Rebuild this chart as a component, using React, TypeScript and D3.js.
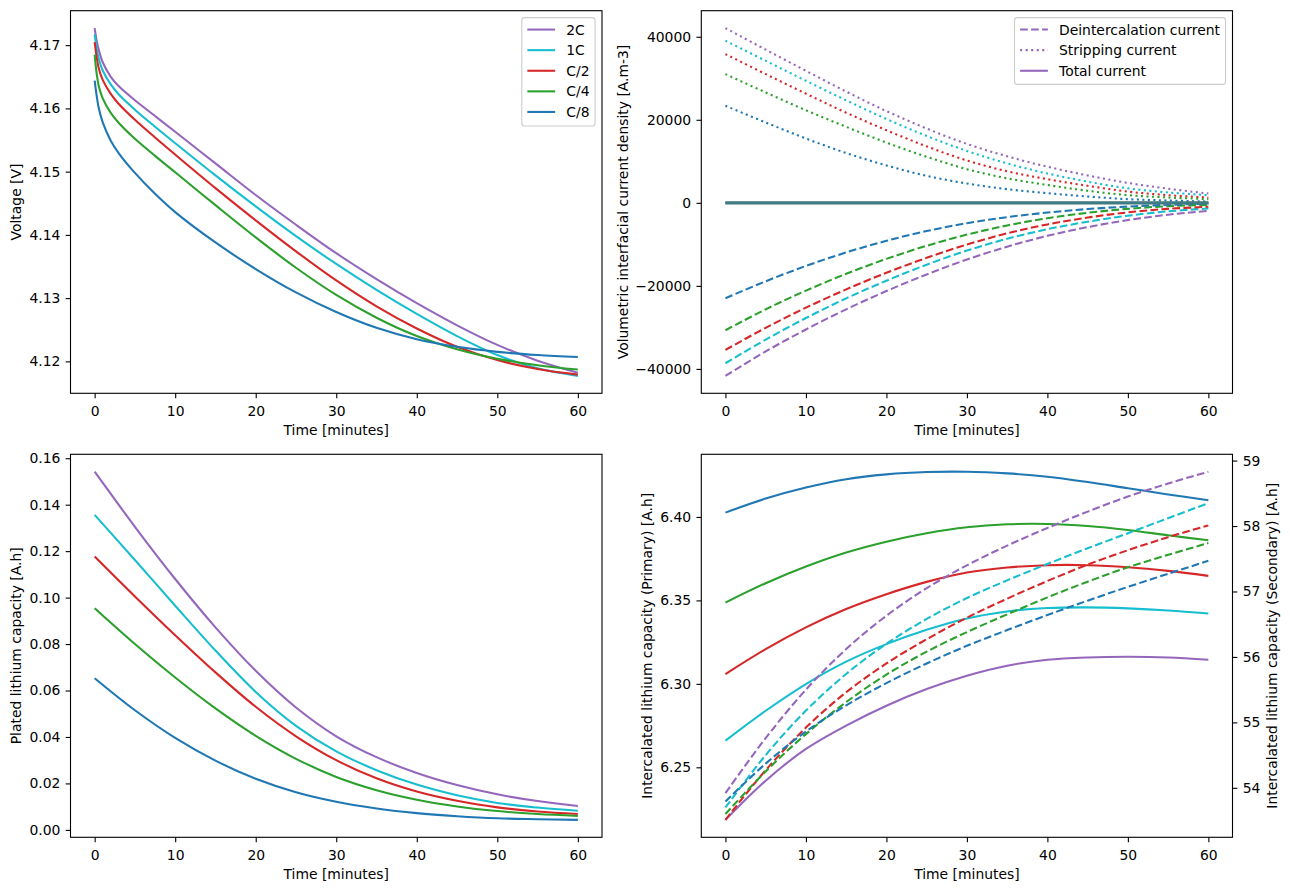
import { useEffect, useRef } from "react";
import * as d3 from "d3";

// C-rates, in the order they were plotted
const rateLabels = ["2C", "1C", "C/2", "C/4", "C/8"];
const rateColors = ["#9467bd", "#17becf", "#d62728", "#2ca02c", "#1f77b4"];

// ---- voltage panel (finer sampling near the start of the rest) ----
const voltageTime = [0, 0.25, 0.5, 1, 2, 3, 5, 7.5, 10, 15, 20, 25, 30, 35, 40, 45, 50, 55, 60];
const voltage2C = [4.1727, 4.1707, 4.1693, 4.1673, 4.165, 4.1635, 4.1613, 4.1588, 4.1563, 4.1513, 4.1463, 4.1416, 4.1371, 4.133, 4.1292, 4.1257, 4.1226, 4.1201, 4.1182];
const voltage1C = [4.1717, 4.1695, 4.1679, 4.166, 4.1638, 4.1622, 4.1598, 4.1571, 4.1545, 4.1494, 4.1445, 4.1398, 4.1354, 4.1313, 4.1275, 4.124, 4.121, 4.1189, 4.1177];
const voltageC2 = [4.1705, 4.1681, 4.1664, 4.1645, 4.1623, 4.1607, 4.1582, 4.1554, 4.1527, 4.1474, 4.1423, 4.1374, 4.1328, 4.1287, 4.1252, 4.1223, 4.1202, 4.1188, 4.1179];
const voltageC4 = [4.1685, 4.1655, 4.1636, 4.1616, 4.1593, 4.1577, 4.1552, 4.1525, 4.1499, 4.1447, 4.1396, 4.1348, 4.1305, 4.1269, 4.124, 4.1219, 4.1204, 4.1194, 4.1187];
const voltageC8 = [4.1644, 4.162, 4.1601, 4.1578, 4.1549, 4.1529, 4.1498, 4.1465, 4.1436, 4.1388, 4.1346, 4.1309, 4.1278, 4.1253, 4.1235, 4.1223, 4.1215, 4.121, 4.1207];
const voltageTicks = [4.12, 4.13, 4.14, 4.15, 4.16, 4.17];

// ---- the other panels are sampled every 5 minutes ----
const sampleTime = [0, 5, 10, 15, 20, 25, 30, 35, 40, 45, 50, 55, 60];
const timeTicks = [0, 10, 20, 30, 40, 50, 60];

// volumetric interfacial current density [A.m-3]
const deint2C = [-41686, -35800, -30500, -25650, -21250, -17250, -13650, -10550, -7950, -5850, -4150, -2850, -1930];
const deint1C = [-38634, -32950, -27750, -23000, -18750, -14900, -11500, -8650, -6350, -4550, -3100, -2050, -1370];
const deintC2 = [-35422, -30100, -25250, -20850, -16850, -13250, -10050, -7350, -5200, -3550, -2300, -1450, -960];
const deintC4 = [-30682, -25650, -21150, -17100, -13500, -10350, -7650, -5450, -3700, -2400, -1450, -800, -480];
const deintC8 = [-22971, -18900, -15200, -11950, -9150, -6800, -4900, -3450, -2350, -1500, -900, -480, -180];
const strip2C = [42087, 36900, 31800, 26800, 22100, 17900, 14200, 11200, 8700, 6600, 4800, 3400, 2250];
const strip1C = [39035, 34216, 29397, 24700, 20200, 16100, 12500, 9500, 7068, 5100, 3500, 2500, 1850];
const stripC2 = [35823, 31003, 26300, 21700, 17500, 13600, 10200, 7600, 5700, 4100, 2700, 1850, 1290];
const stripC4 = [31003, 26586, 22300, 18300, 14500, 11100, 8100, 5900, 4300, 2900, 1850, 1290, 880];
const stripC8 = [23373, 19357, 15500, 12000, 9000, 6500, 4650, 3290, 2330, 1530, 880, 560, 320];
const total2C = [0, 0, 0, 0, 0, 0, 0, 0, 0, 0, 0, 0, 0];
const total1C = [0, 0, 0, 0, 0, 0, 0, 0, 0, 0, 0, 0, 0];
const totalC2 = [0, 0, 0, 0, 0, 0, 0, 0, 0, 0, 0, 0, 0];
const totalC4 = [0, 0, 0, 0, 0, 0, 0, 0, 0, 0, 0, 0, 0];
const totalC8 = [0, 0, 0, 0, 0, 0, 0, 0, 0, 0, 0, 0, 0];
const currentTicks = [-40000, -20000, 0, 20000, 40000];

// plated lithium capacity [A.h]
const plated2C = [0.1542, 0.1305, 0.108, 0.0872, 0.0685, 0.0527, 0.0403, 0.0313, 0.0245, 0.0193, 0.0153, 0.0124, 0.0103];
const plated1C = [0.1356, 0.1162, 0.0965, 0.0772, 0.0594, 0.0448, 0.0338, 0.0257, 0.0195, 0.0149, 0.0116, 0.0096, 0.0082];
const platedC2 = [0.1177, 0.1005, 0.0838, 0.0678, 0.053, 0.0403, 0.03, 0.0222, 0.0165, 0.0125, 0.0097, 0.0079, 0.0068];
const platedC4 = [0.0954, 0.08, 0.0656, 0.0523, 0.0405, 0.0306, 0.0228, 0.0171, 0.013, 0.0101, 0.0081, 0.0068, 0.006];
const platedC8 = [0.0653, 0.0515, 0.0396, 0.0298, 0.022, 0.0162, 0.0121, 0.0092, 0.0072, 0.0059, 0.005, 0.0046, 0.0043];
const platedTicks = [0, 0.02, 0.04, 0.06, 0.08, 0.1, 0.12, 0.14, 0.16];

// intercalated lithium capacity [A.h], primary (solid) and secondary (dashed)
const primary2C = [6.2185, 6.242, 6.261, 6.275, 6.2869, 6.2969, 6.3049, 6.3109, 6.3144, 6.3158, 6.3162, 6.3158, 6.3144];
const primary1C = [6.266, 6.2839, 6.2999, 6.3133, 6.3238, 6.3324, 6.3392, 6.3434, 6.3454, 6.3458, 6.3452, 6.344, 6.3422];
const primaryC2 = [6.3059, 6.3208, 6.3338, 6.3448, 6.3537, 6.3611, 6.3667, 6.3697, 6.3711, 6.3711, 6.3699, 6.3677, 6.3647];
const primaryC4 = [6.3487, 6.3603, 6.3703, 6.3787, 6.3852, 6.3902, 6.3938, 6.3956, 6.3958, 6.3946, 6.3922, 6.389, 6.386];
const primaryC8 = [6.4026, 6.411, 6.4176, 6.4226, 6.4255, 6.4269, 6.4271, 6.4261, 6.4241, 6.4209, 6.4172, 6.4135, 6.41];
const secondary2C = [53.92, 54.76, 55.5, 56.12, 56.63, 57.05, 57.4, 57.7, 57.97, 58.22, 58.45, 58.65, 58.83];
const secondary1C = [53.7, 54.5, 55.18, 55.74, 56.2, 56.58, 56.9, 57.17, 57.42, 57.66, 57.89, 58.12, 58.35];
const secondaryC2 = [53.51, 54.27, 54.92, 55.46, 55.9, 56.27, 56.6, 56.89, 57.16, 57.41, 57.63, 57.83, 58.01];
const secondaryC4 = [53.6, 54.25, 54.82, 55.31, 55.73, 56.08, 56.38, 56.65, 56.91, 57.15, 57.37, 57.56, 57.74];
const secondaryC8 = [53.79, 54.37, 54.86, 55.26, 55.6, 55.9, 56.17, 56.41, 56.64, 56.86, 57.07, 57.27, 57.47];
const primaryTicks = [6.25, 6.3, 6.35, 6.4];
const secondaryTicks = [54, 55, 56, 57, 58, 59];

const voltageSeries = [voltage2C, voltage1C, voltageC2, voltageC4, voltageC8];
const deintSeries = [deint2C, deint1C, deintC2, deintC4, deintC8];
const stripSeries = [strip2C, strip1C, stripC2, stripC4, stripC8];
const totalSeries = [total2C, total1C, totalC2, totalC4, totalC8];
const platedSeries = [plated2C, plated1C, platedC2, platedC4, platedC8];
const primarySeries = [primary2C, primary1C, primaryC2, primaryC4, primaryC8];
const secondarySeries = [secondary2C, secondary1C, secondaryC2, secondaryC4, secondaryC8];

const FONT = "DejaVu Sans, sans-serif";
const FS = 13.9; // 10pt at 100 dpi
const TICK = 4.86;
const LW = 2.08;
const DASHED = "7.7,3.3";
const DOTTED = "2.08,3.44";

type Box = { left: number; top: number; right: number; bottom: number };
type Sel = d3.Selection<SVGSVGElement, unknown, null, undefined>;

// matplotlib-like autoscale: 5% margin on each side
function padded(values: number[]): [number, number] {
  const lo = d3.min(values)!;
  const hi = d3.max(values)!;
  const m = (hi - lo) * 0.05;
  return [lo - m, hi + m];
}

function styleAxis(g: d3.Selection<SVGGElement, unknown, null, undefined>) {
  g.attr("font-size", FS).attr("font-family", FONT);
  g.select(".domain").remove();
  g.selectAll(".tick line").attr("stroke", "#000").attr("stroke-width", 1.1);
  g.selectAll(".tick text").attr("fill", "#000");
}

function timeAxis(svg: Sel, box: Box) {
  const x = d3.scaleLinear().domain(padded([0, 60])).range([box.left, box.right]);
  const g = svg
    .append("g")
    .attr("transform", `translate(0,${box.bottom})`)
    .call(d3.axisBottom(x).tickValues(timeTicks).tickSize(TICK).tickPadding(7.7).tickFormat(d3.format("d")));
  styleAxis(g);
  svg
    .append("text")
    .attr("x", (box.left + box.right) / 2)
    .attr("y", box.bottom + 41.2)
    .attr("text-anchor", "middle")
    .text("Time [minutes]");
  return x;
}

function yLabel(svg: Sel, box: Box, cx: number, label: string) {
  svg
    .append("text")
    .attr("transform", `translate(${cx},${(box.top + box.bottom) / 2}) rotate(-90)`)
    .attr("text-anchor", "middle")
    .attr("dominant-baseline", "central")
    .text(label);
}

function leftAxis(svg: Sel, box: Box, values: number[], ticks: number[], fmt: string) {
  const y = d3.scaleLinear().domain(padded(values)).range([box.bottom, box.top]);
  const g = svg
    .append("g")
    .attr("transform", `translate(${box.left},0)`)
    .call(d3.axisLeft(y).tickValues(ticks).tickSize(TICK).tickPadding(5.3).tickFormat(d3.format(fmt)));
  styleAxis(g);
  return y;
}

function frame(svg: Sel, box: Box) {
  svg
    .append("rect")
    .attr("x", box.left)
    .attr("y", box.top)
    .attr("width", box.right - box.left)
    .attr("height", box.bottom - box.top)
    .attr("fill", "none")
    .attr("stroke", "#000")
    .attr("stroke-width", 1.1);
}

function drawLine(
  svg: Sel,
  x: d3.ScaleLinear<number, number>,
  y: d3.ScaleLinear<number, number>,
  time: number[],
  values: number[],
  color: string,
  dash: string | null,
  width = LW,
  opacity = 1
) {
  const line = d3
    .line<number>()
    .x((_, i) => x(time[i]))
    .y((d) => y(d))
    .curve(d3.curveCatmullRom.alpha(0.5));
  svg
    .append("path")
    .datum(values)
    .attr("d", line)
    .attr("fill", "none")
    .attr("stroke", color)
    .attr("stroke-width", width)
    .attr("stroke-opacity", opacity)
    .attr("stroke-linejoin", "round")
    .attr("stroke-dasharray", dash);
}

function legend(svg: Sel, box: Box, entries: { label: string; color: string; dash: string | null }[]) {
  const pad = 0.4 * FS;
  const handle = 2 * FS;
  const gap = 0.8 * FS;
  const pitch = 20.6;
  const g = svg.append("g");
  const bg = g.append("rect");
  const texts = entries.map((e) => g.append("text").text(e.label));
  const textW = d3.max(texts, (t) => (t.node() as SVGTextElement).getComputedTextLength()) || 0;
  const w = 2 * pad + handle + gap + textW;
  const h = 2 * pad + entries.length * FS + (entries.length - 1) * 0.5 * FS;
  const right = box.right - 0.5 * FS;
  const top = box.top + 0.5 * FS;
  const left = right - w;
  bg.attr("x", left)
    .attr("y", top)
    .attr("width", w)
    .attr("height", h)
    .attr("rx", 2.8)
    .attr("fill", "#fff")
    .attr("fill-opacity", 0.8)
    .attr("stroke", "#cccccc")
    .attr("stroke-width", 1.1);
  entries.forEach((e, i) => {
    const cy = top + pad + FS / 2 - 0.6 + i * pitch;
    g.append("line")
      .attr("x1", left + pad)
      .attr("x2", left + pad + handle)
      .attr("y1", cy)
      .attr("y2", cy)
      .attr("stroke", e.color)
      .attr("stroke-width", LW)
      .attr("stroke-dasharray", e.dash);
    texts[i].attr("x", left + pad + handle + gap).attr("y", cy + 5);
  });
}

function PlatingFigure() {
  const svgRef = useRef<SVGSVGElement>(null);

  useEffect(() => {
    if (!svgRef.current) return;
    const svg = d3.select(svgRef.current);
    svg.selectAll("*").remove();
    svg.attr("font-family", FONT).attr("font-size", FS).attr("fill", "#000");

    // axes boxes of the 2x2 grid
    const tl: Box = { left: 70.5, top: 10.7, right: 602, bottom: 393.3 };
    const tr: Box = { left: 701.3, top: 10.7, right: 1232.5, bottom: 393.3 };
    const bl: Box = { left: 70.5, top: 454.3, right: 602, bottom: 837.3 };
    const br: Box = { left: 701.3, top: 454.3, right: 1232.5, bottom: 837.3 };

    // --- voltage ---
    {
      const x = timeAxis(svg, tl);
      const y = leftAxis(svg, tl, voltageSeries.flat(), voltageTicks, ".2f");
      voltageSeries.forEach((s, i) => drawLine(svg, x, y, voltageTime, s, rateColors[i], null));
      frame(svg, tl);
      yLabel(svg, tl, 15.5, "Voltage [V]");
      legend(
        svg,
        tl,
        rateLabels.map((l, i) => ({ label: l, color: rateColors[i], dash: null }))
      );
    }

    // --- currents ---
    {
      const x = timeAxis(svg, tr);
      const y = leftAxis(svg, tr, [...deintSeries.flat(), ...stripSeries.flat()], currentTicks, "d");
      rateLabels.forEach((_, i) => {
        drawLine(svg, x, y, sampleTime, deintSeries[i], rateColors[i], DASHED);
        drawLine(svg, x, y, sampleTime, stripSeries[i], rateColors[i], DOTTED);
      });
      totalSeries.forEach((s, i) => drawLine(svg, x, y, sampleTime, s, rateColors[i], null, 2.9, 0.55));
      frame(svg, tr);
      yLabel(svg, tr, 622.5, "Volumetric interfacial current density [A.m-3]");
      legend(svg, tr, [
        { label: "Deintercalation current", color: rateColors[0], dash: DASHED },
        { label: "Stripping current", color: rateColors[0], dash: DOTTED },
        { label: "Total current", color: rateColors[0], dash: null },
      ]);
    }

    // --- plated lithium ---
    {
      const x = timeAxis(svg, bl);
      const y = leftAxis(svg, bl, platedSeries.flat(), platedTicks, ".2f");
      platedSeries.forEach((s, i) => drawLine(svg, x, y, sampleTime, s, rateColors[i], null));
      frame(svg, bl);
      yLabel(svg, bl, 15.5, "Plated lithium capacity [A.h]");
    }

    // --- intercalated lithium, twin y axes ---
    {
      const x = timeAxis(svg, br);
      const y = leftAxis(svg, br, primarySeries.flat(), primaryTicks, ".2f");
      const y2 = d3.scaleLinear().domain(padded(secondarySeries.flat())).range([br.bottom, br.top]);
      const g2 = svg
        .append("g")
        .attr("transform", `translate(${br.right},0)`)
        .call(d3.axisRight(y2).tickValues(secondaryTicks).tickSize(TICK).tickPadding(5.3).tickFormat(d3.format("d")));
      styleAxis(g2);
      primarySeries.forEach((s, i) => drawLine(svg, x, y, sampleTime, s, rateColors[i], null));
      secondarySeries.forEach((s, i) => drawLine(svg, x, y2, sampleTime, s, rateColors[i], DASHED));
      frame(svg, br);
      yLabel(svg, br, 646.5, "Intercalated lithium capacity (Primary) [A.h]");
      yLabel(svg, br, 1272, "Intercalated lithium capacity (Secondary) [A.h]");
    }
  }, []);

  return (
    <svg
      ref={svgRef}
      width={1290}
      height={890}
      style={{ position: "absolute", left: 0, top: 0, background: "#fff" }}
    ></svg>
  );
}

export default function App() {
  return <PlatingFigure />;
}
